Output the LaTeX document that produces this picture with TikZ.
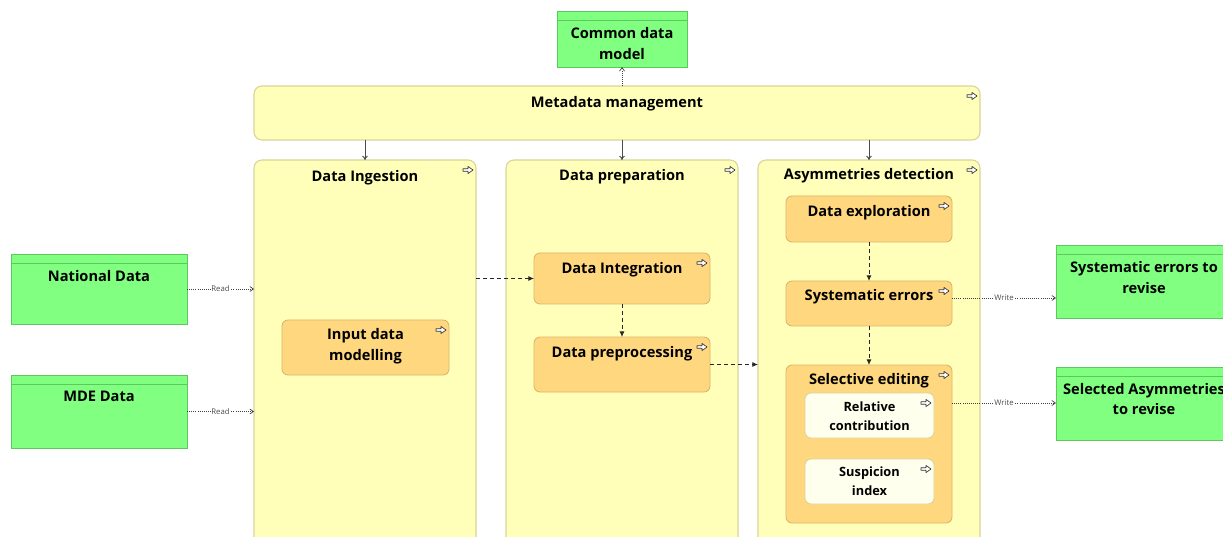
\documentclass[tikz,border=0pt]{standalone}
\usepackage{fontspec}
\setmainfont{Open Sans}
\usetikzlibrary{positioning, arrows.meta}
\definecolor{grnfill}{HTML}{80FF80}
\definecolor{grnline}{HTML}{5DC85D}
\definecolor{ylwfill}{HTML}{FFFFB9}
\definecolor{ylwline}{HTML}{D8D49A}
\definecolor{orgfill}{HTML}{FFD77F}
\definecolor{orgline}{HTML}{D9B56A}
\definecolor{whtfill}{HTML}{FFFFEE}
\tikzset{
    every node/.style={inner sep=0pt, outer sep=0pt},
    px/.style 2 args={minimum width=#1*0.025cm, minimum height=#2*0.025cm, anchor=north west},
    ttl/.style={anchor=center, yshift=-#1*0.025cm, align=center,
        font=\bfseries\fontsize{10.4}{14.9}\selectfont},
    subttl/.style={ttl=#1, font=\bfseries\fontsize{9.1}{13.5}\selectfont},
    datbox/.style={draw=grnline, fill=grnfill, line width=0.6pt},
    funcbox/.style={draw=ylwline, fill=ylwfill, rounded corners=0.2cm, line width=0.8pt},
    procbox/.style={draw=orgline, fill=orgfill, rounded corners=0.15cm, line width=0.6pt},
    stepbox/.style={draw=ylwline, fill=whtfill, rounded corners=0.15cm, line width=0.6pt},
    flow/.style={-{Latex[length=4pt,width=3.5pt]}, dash pattern=on 3pt off 2pt,
        draw=black!85, line width=0.6pt},
    serve/.style={-{To[length=3pt,width=4pt]}, draw=black!70, line width=0.7pt},
    access/.style={-{Straight Barb[length=2.5pt,width=3.5pt]}, densely dotted,
        draw=black!75, line width=0.5pt},
    acclabel/.style={fill=white, inner sep=0.6pt, text=black!70,
        font=\fontsize{5.5}{6}\selectfont},
    flowicon/.pic={
        \draw[black!80, fill=white, line width=0.45pt, line join=round]
            (-5,-1.3) -- (0,-1.3) -- (0,-3.6) -- (5,0) -- (0,3.6) -- (0,1.3) -- (-5,1.3) -- cycle;
    }
}

\begin{document}
\begin{tikzpicture}[x=0.025cm, y=-0.025cm]
    \useasboundingbox (0,0) rectangle (1223,537);
    \clip (0,0) rectangle (1223,537);

    % containers
    \node[funcbox, px={726}{54}, label={[ttl=17.5]north:Metadata management}] (meta) at (254,86) {};
    \node[funcbox, px={222}{420}, label={[ttl=17.5]north:Data Ingestion}] (ing) at (254,160) {};
    \node[funcbox, px={232}{420}, label={[ttl=17]north:Data preparation}] (prep) at (506,160) {};
    \node[funcbox, px={222}{420}, label={[ttl=15.5]north:Asymmetries detection}] (asy) at (758,160) {};

    % processes
    \node[procbox, px={167}{55}, label={[ttl=26.5]north:{Input data\\modelling}}] (idm) at (282,320) {};
    \node[procbox, px={176}{51}, label={[ttl=17]north:Data Integration}] (int) at (534,253) {};
    \node[procbox, px={176}{55}, label={[ttl=17]north:Data preprocessing}] (pre) at (534,337) {};
    \node[procbox, px={166}{46}, label={[ttl=17]north:Data exploration}] (exp) at (786,196) {};
    \node[procbox, px={166}{45}, label={[ttl=16]north:Systematic errors}] (se) at (786,281) {};
    \node[procbox, px={166}{158}, label={[ttl=16]north:Selective editing}] (sel) at (786,365) {};
    \node[stepbox, px={129}{45}, label={[subttl=23]north:{Relative\\contribution}}] (rel) at (805,393) {};
    \node[stepbox, px={129}{45}, label={[subttl=22.5]north:{Suspicion\\index}}] (sus) at (805,459) {};

    % data objects
    \node[datbox, px={130}{56}, label={[ttl=32.5]north:{Common data\\model}}] (cdm) at (557,11) {};
    \node[datbox, px={176}{70}, label={[ttl=22.5]north:National Data}] (nat) at (11,254) {};
    \node[datbox, px={176}{73}, label={[ttl=21.5]north:MDE Data}] (mde) at (11,375) {};
    \node[datbox, px={176}{73}, label={[ttl=32.5]north:{Systematic errors to\\revise}}] (ser) at (1056,245) {};
    \node[datbox, px={176}{73}, label={[ttl=32]north:{Selected Asymmetries\\to revise}}] (sar) at (1056,367) {};
    \foreach \n in {cdm,nat,mde,ser,sar}
        \draw[grnline, line width=0.6pt] ([yshift=-0.225cm]\n.north west) -- ([yshift=-0.225cm]\n.north east);

    \foreach \n in {meta,ing,prep,asy,idm,int,pre,exp,se,sel,rel,sus}
        \pic at ([xshift=-0.2cm, yshift=-0.25cm]\n.north east) {flowicon};

    % connectors
    \draw[access] (meta.north -| cdm.south) -- (cdm.south);
    \draw[serve] (meta.south -| ing.north) -- (ing.north);
    \draw[serve] (meta.south -| prep.north) -- (prep.north);
    \draw[serve] (meta.south -| asy.north) -- (asy.north);

    \draw[access] (nat.east) -- (nat.east -| ing.west) node[acclabel, midway] {Read};
    \draw[access] (mde.east) -- (mde.east -| ing.west) node[acclabel, midway] {Read};

    \draw[flow] (int.west -| ing.east) -- (int.west);
    \draw[flow] (int.south) -- (pre.north);
    \draw[flow] (pre.east) -- (pre.east -| asy.west);
    \draw[flow] (exp.south) -- (se.north);
    \draw[flow] (se.south) -- (sel.north);

    \draw[access] (se.east |- 0,298) -- (ser.west |- 0,298) node[acclabel, midway] {Write};
    \draw[access] (sel.east |- 0,403) -- (sar.west |- 0,403) node[acclabel, midway] {Write};
\end{tikzpicture}
\end{document}
